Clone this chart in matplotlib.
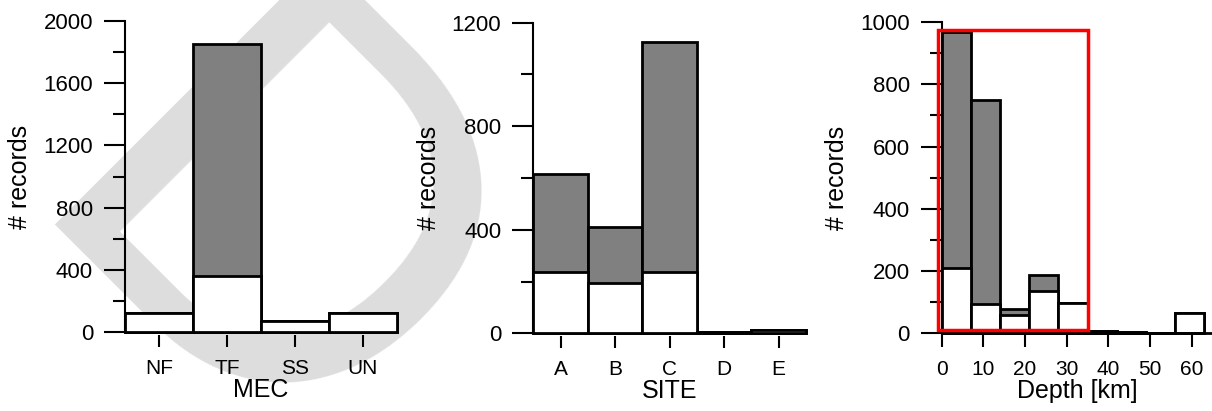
import numpy as np
import matplotlib
matplotlib.use('Agg')
import matplotlib.pyplot as plt
from matplotlib.patches import Rectangle

plt.rcParams['font.family'] = ['Liberation Sans', 'DejaVu Sans']

# data: total (grey) and subset (white) per class
mec_labels = ['NF', 'TF', 'SS', 'UN']
mec_total = [126, 1852, 73, 122]
mec_sub = [126, 361, 73, 122]

site_labels = ['A', 'B', 'C', 'D', 'E']
site_total = [614, 411, 1124, 5, 12]
site_sub = [238, 194, 238, 5, 12]

depth_edges = [0, 7, 14, 21, 28, 35, 42, 49, 56]
depth_total = [970, 750, 75, 185, 97, 5, 2, 0, 62]
depth_sub = [207, 91, 57, 134, 97, 5, 2, 0, 62]

fig = plt.figure(figsize=(12.12, 4.11), dpi=100)

# watermark behind everything
fig.text(0.0074, 0.455, 'D', fontsize=396, color='#dddddd', rotation=-45,
         rotation_mode='anchor', ha='left', va='baseline', zorder=-1)


def style(ax, ymax, major, xlabel):
    ax.set_facecolor('none')
    for s in ['top', 'right']:
        ax.spines[s].set_visible(False)
    ax.spines['bottom'].set_visible(False)
    ax.spines['bottom'].set_position(('outward', 2))
    ax.spines['left'].set_linewidth(1.5)
    ax.set_ylim(0, ymax)
    ax.set_yticks(np.arange(0, ymax + 1, major))
    ax.set_yticks(np.arange(major / 2, ymax, major), minor=True)
    ax.tick_params(axis='y', which='major', length=15, width=1.5, labelsize=16, pad=8)
    ax.tick_params(axis='y', which='minor', length=8.5, width=1.5)
    ax.tick_params(axis='x', length=8.5, width=1.5, labelsize=15, pad=9)
    ax.set_ylabel('# records', fontsize=18, labelpad=8)
    ax.set_xlabel(xlabel, fontsize=18, labelpad=0)


def bars(ax, x, total, sub, **kw):
    ax.bar(x, total, color='#808080', edgecolor='k', linewidth=2, clip_on=False, **kw)
    ax.bar(x, sub, color='white', edgecolor='k', linewidth=2, clip_on=False, **kw)


# MEC
ax1 = fig.add_axes([0.1031, 0.1915, 0.2244, 0.758])
xs = np.arange(len(mec_labels))
bars(ax1, xs, mec_total, mec_sub, width=1.0)
ax1.set_xlim(-0.5, len(mec_labels) - 0.5)
ax1.set_xticks(xs)
ax1.set_xticklabels(mec_labels)
style(ax1, 2000, 400, 'MEC')

# SITE
ax2 = fig.add_axes([0.44, 0.189, 0.225, 0.7557])
xs = np.arange(len(site_labels))
bars(ax2, xs, site_total, site_sub, width=1.0)
ax2.set_xlim(-0.5, len(site_labels) - 0.5)
ax2.set_xticks(xs)
ax2.set_xticklabels(site_labels)
style(ax2, 1200, 400, 'SITE')

# Depth
ax3 = fig.add_axes([0.777, 0.1905, 0.2234, 0.755])
bars(ax3, depth_edges, depth_total, depth_sub, width=7, align='edge')
ax3.axhline(0, color='k', lw=2, clip_on=False)
ax3.set_xlim(0, 65)
ax3.set_xticks(np.arange(0, 61, 10))
style(ax3, 1000, 200, 'Depth [km]')
ax3.add_patch(Rectangle((-0.8, 8), 35.8, 969, fill=False, edgecolor='red',
                        linewidth=2.5, clip_on=False, zorder=5))

fig.savefig('out.png', dpi=100)
